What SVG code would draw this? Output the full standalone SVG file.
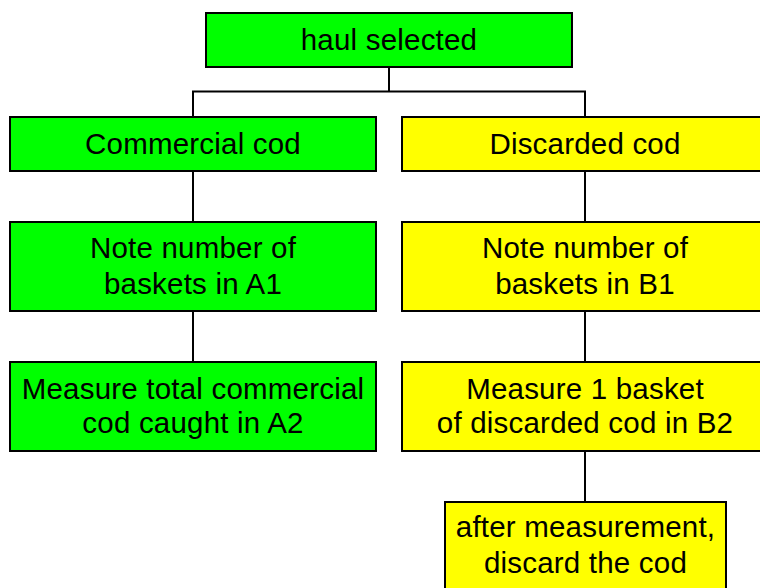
<svg xmlns="http://www.w3.org/2000/svg" width="760" height="588" viewBox="0 0 760 588">
<style>
.box{stroke:#000;stroke-width:2}
.g{fill:#00FF00}
.y{fill:#FFFF00}
text{font-family:"Liberation Sans",Arial,sans-serif;font-size:29.5px;letter-spacing:0.2px;fill:#000;text-anchor:middle}
.conn{fill:none;stroke:#000;stroke-width:2}
</style>
<rect width="760" height="588" fill="#fff"/>
<g id="connectors" class="conn">
<path d="M389 68V91.5M193 117V91.5H585V117"/>
<path d="M193 172V221"/>
<path d="M193 312V361"/>
<path d="M585 172V221"/>
<path d="M585 312V361"/>
<path d="M585 451V501"/>
</g>
<g id="haul">
<rect class="box g" x="206" y="13" width="366" height="54"/>
<text x="389" y="49.5">haul selected</text>
</g>
<g id="commercial">
<rect class="box g" x="10" y="117" width="366" height="54"/>
<text x="193" y="154">Commercial cod</text>
</g>
<g id="discarded">
<rect class="box y" x="402" y="117" width="366" height="54"/>
<text x="585" y="154">Discarded cod</text>
</g>
<g id="noteA1">
<rect class="box g" x="10" y="222" width="366" height="89"/>
<text x="193" y="257.5">Note number of</text>
<text x="193" y="293.5">baskets in A1</text>
</g>
<g id="noteB1">
<rect class="box y" x="402" y="222" width="366" height="89"/>
<text x="585" y="257.5">Note number of</text>
<text x="585" y="293.5">baskets in B1</text>
</g>
<g id="measureA2">
<rect class="box g" x="10" y="362" width="366" height="89"/>
<text x="193" y="398.5">Measure total commercial</text>
<text x="193" y="433">cod caught in A2</text>
</g>
<g id="measureB2">
<rect class="box y" x="402" y="362" width="366" height="89"/>
<text x="585" y="398.5">Measure 1 basket</text>
<text x="585" y="433">of discarded cod in B2</text>
</g>
<g id="discard">
<rect class="box y" x="445" y="502" width="281" height="100"/>
<text x="585.5" y="537">after measurement,</text>
<text x="585.5" y="572.5">discard the cod</text>
</g>
</svg>
